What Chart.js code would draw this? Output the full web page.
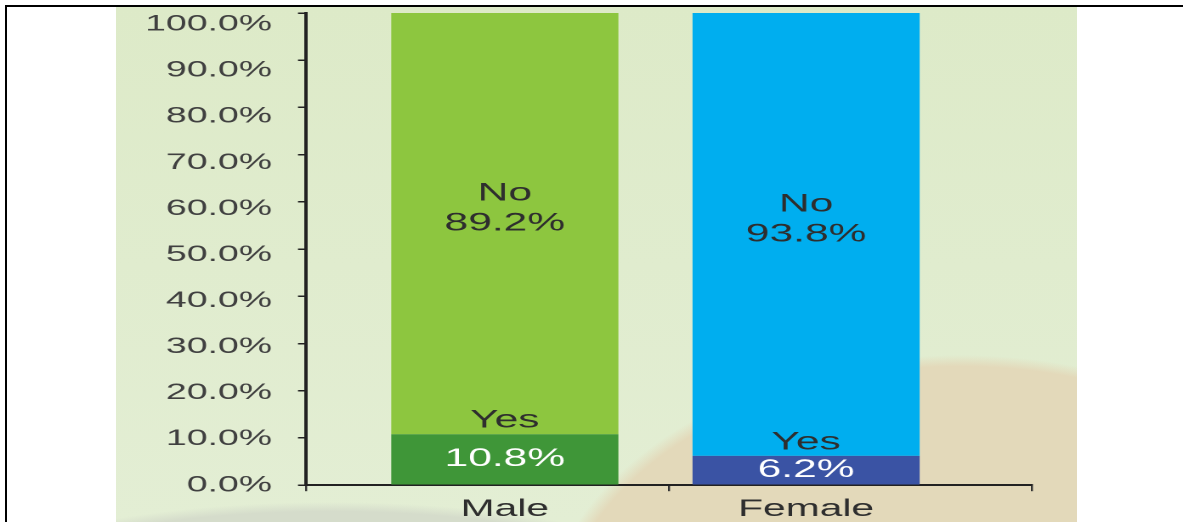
<!DOCTYPE html>
<html>
<head>
<meta charset="utf-8">
<script src="https://cdn.jsdelivr.net/npm/chart.js@4"></script>
<style>
  html, body { margin: 0; padding: 0; background: #fff; }
  body { width: 1183px; height: 522px; position: relative; overflow: hidden; }
  #frame-top { position: absolute; left: 5px; top: 5px; width: 1178px; height: 2px; background: #000; }
  #frame-left { position: absolute; left: 5px; top: 5px; width: 2px; height: 517px; background: #000; }
  #backdrop {
    position: absolute; left: 116px; top: 7px; width: 961px; height: 515px;
    background:
      radial-gradient(ellipse 420px 285px at 844px 633px, #e3d9ba 0, #e3d9ba 96%, rgba(227,217,186,0) 100%),
      radial-gradient(ellipse 420px 118px at 214px 613px, #d5dccb 0, #d5dccb 92%, rgba(213,220,203,0) 100%),
      linear-gradient(#ddeac8, #e3eed4);
  }
  /* the original picture is stretched sideways, so the chart is too */
  #wrap { position: absolute; left: 0; top: 0; width: 696px; height: 522px; transform: scaleX(1.69971); transform-origin: 0 0; }
</style>
</head>
<body>
<div id="backdrop"></div>
<div id="frame-top"></div>
<div id="frame-left"></div>
<div id="wrap"><canvas id="myChart" width="696" height="522"></canvas></div>
<script>
const categories = ['Male', 'Female'];
const yesValues = [10.8, 6.2];
const noValues = [89.2, 93.8];
const yTickValues = [0, 10, 20, 30, 40, 50, 60, 70, 80, 90, 100];
const yesColors = ['#3f9638', '#3a53a4'];
const noColors = ['#8dc63f', '#00aeef'];

Chart.defaults.font.family = '"Liberation Sans", Arial, sans-serif';

// writes "No / 89.2%" and "Yes / 10.8%" onto the bars
const barLabels = {
  id: 'barLabels',
  afterDatasetsDraw(chart) {
    const ctx = chart.ctx;
    const yesMeta = chart.getDatasetMeta(0);
    const noMeta = chart.getDatasetMeta(1);
    ctx.save();
    ctx.textAlign = 'center';
    ctx.textBaseline = 'middle';
    ctx.font = '25px "Liberation Sans", Arial, sans-serif';
    categories.forEach((c, i) => {
      const yb = yesMeta.data[i];
      const nb = noMeta.data[i];
      const mid = (nb.y + nb.base) / 2 - 15;
      ctx.fillStyle = '#2e2e2e';
      ctx.fillText('No', nb.x, mid - 15);
      ctx.fillText(noValues[i].toFixed(1) + '%', nb.x, mid + 15);
      ctx.fillText('Yes', yb.x, yb.y - 13.5);
      ctx.fillStyle = '#ffffff';
      ctx.fillText(yesValues[i].toFixed(1) + '%', yb.x, (yb.y + yb.base) / 2);
    });
    ctx.restore();
  }
};

new Chart(document.getElementById('myChart'), {
  type: 'bar',
  data: {
    labels: categories,
    datasets: [
      {
        label: 'Yes',
        data: yesValues.map((v, i) => ({ x: i, y: v })),
        backgroundColor: yesColors
      },
      {
        label: 'No',
        data: noValues.map((v, i) => ({ x: i, y: v })),
        backgroundColor: noColors
      }
    ]
  },
  options: {
    responsive: false,
    devicePixelRatio: 2,
    animation: false,
    barPercentage: 0.754,
    categoryPercentage: 1,
    layout: { padding: { left: 0, right: 88.8, top: 13, bottom: -6 } },
    plugins: { legend: { display: false }, tooltip: { enabled: false } },
    scales: {
      x: {
        type: 'linear',
        stacked: true,
        min: -0.66,
        max: 1.75,
        bounds: 'data',
        offset: false,
        weight: 1,
        grid: { display: false, drawTicks: false, offset: false },
        border: { display: false },
        afterBuildTicks: s => { s.ticks = categories.map((c, i) => ({ value: i })); },
        ticks: {
          autoSkip: false,
          maxRotation: 0,
          padding: 4,
          color: '#2e2e2e',
          font: { size: 24 },
          callback: v => categories[v]
        }
      },
      xAxis: {
        type: 'category',
        position: 'bottom',
        labels: categories,
        offset: true,
        weight: 0,
        grid: { offset: true, drawOnChartArea: false, tickLength: 6, color: '#333', lineWidth: 1.2 },
        border: { color: '#222', width: 2 },
        ticks: { display: false }
      },
      // axis line and tick marks
      y: {
        stacked: true,
        min: 0,
        max: 100,
        weight: 0,
        grid: { drawOnChartArea: false, tickLength: 4.7, color: '#222', lineWidth: 1.5 },
        border: { color: '#222', width: 2 },
        afterBuildTicks: s => { s.ticks = yTickValues.map(v => ({ value: v })); },
        afterFit: s => { s.width = 4.7; s.paddingTop = 0; s.paddingBottom = 0; },
        ticks: { display: false }
      },
      // tick labels: in the original they sit a little closer together than the marks
      yLabels: {
        type: 'linear',
        position: 'left',
        min: 0,
        max: 102.5,
        weight: 1,
        grid: { display: false, drawTicks: false },
        border: { display: false },
        afterBuildTicks: s => { s.ticks = yTickValues.map(v => ({ value: v })); },
        afterFit: s => { s.width = 175.3; s.paddingTop = 0; s.paddingBottom = 0; },
        ticks: {
          padding: 15.3,
          color: '#404040',
          font: { size: 22 },
          callback: v => v.toFixed(1) + '%'
        }
      }
    }
  },
  plugins: [barLabels]
});
</script>
</body>
</html>
